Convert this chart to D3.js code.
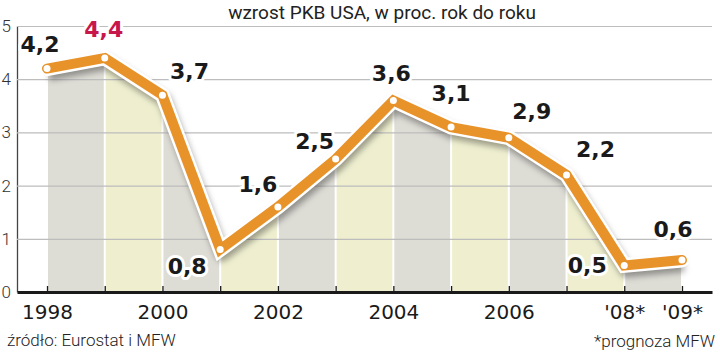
<!DOCTYPE html>
<html>
<head>
<meta charset="utf-8">
<script src="https://cdn.jsdelivr.net/npm/d3@7"></script>
<style>
  body { margin: 0; background: #fff; }
  svg { display: block; }
</style>
</head>
<body>
<div id="wrapper"></div>
<script>
// dane: wzrost PKB USA, w proc. rok do roku
const years = [1998, 1999, 2000, 2001, 2002, 2003, 2004, 2005, 2006, 2007, 2008, 2009];
const growth = [4.2, 4.4, 3.7, 0.8, 1.6, 2.5, 3.6, 3.1, 2.9, 2.2, 0.5, 0.6];
const valueLabels = ["4,2", "4,4", "3,7", "0,8", "1,6", "2,5", "3,6", "3,1", "2,9", "2,2", "0,5", "0,6"];
const xTickLabels = ["1998", "", "2000", "", "2002", "", "2004", "", "2006", "", "'08*", "'09*"];
const yTicks = [0, 1, 2, 3, 4, 5];

// przesuniecia etykiet wzgledem punktow [dx, dy]
const labelOffsets = [[-7, -17], [-1, -21], [27, -16], [-33, 25], [-20, -15], [-21, -10],
                      [-2, -19], [0, -26], [23, -19], [29, -18], [-37, 8], [-9, -23]];

const dataset = years.map((y, i) => ({ year: y, value: growth[i], label: valueLabels[i], off: labelOffsets[i] }));
const xAccessor = d => d.year;
const yAccessor = d => d.value;

const dimensions = {
  width: 720,
  height: 353,
  left: 17,
  right: 712,
  top: 26,
  bottom: 292,
};

const wrapper = d3.select("#wrapper")
  .append("svg")
  .attr("width", dimensions.width)
  .attr("height", dimensions.height);

const defs = wrapper.append("defs");
defs.append("filter")
  .attr("id", "shadow")
  .attr("x", "-10%").attr("y", "-10%").attr("width", "120%").attr("height", "130%")
  .append("feGaussianBlur")
  .attr("stdDeviation", 3);

// skale
const xScale = d3.scalePoint()
  .domain(years)
  .range([dimensions.left, dimensions.right])
  .padding(0.52);

const yScale = d3.scaleLinear()
  .domain([0, 5])
  .range([dimensions.bottom, dimensions.top]);

// pole pod linia - tylko do przyciecia pasow
const areaGenerator = d3.area()
  .x(d => xScale(xAccessor(d)))
  .y0(yScale(0))
  .y1(d => yScale(yAccessor(d)));

defs.append("clipPath")
  .attr("id", "under-line")
  .append("path")
  .attr("d", areaGenerator(dataset));

// pasy naprzemienne
const step = xScale.step();
wrapper.append("g")
  .attr("clip-path", "url(#under-line)")
  .selectAll("rect")
  .data(dataset.slice(0, -1))
  .join("rect")
  .attr("x", d => xScale(xAccessor(d)) + 1)
  .attr("y", dimensions.top)
  .attr("width", step - 2)
  .attr("height", yScale(0) - dimensions.top)
  .attr("fill", (d, i) => i % 2 === 0 ? "#dddcd5" : "#efefd0");

// os Y z liniami siatki
const yAxis = wrapper.append("g")
  .attr("transform", `translate(${dimensions.left},0)`)
  .call(d3.axisLeft(yScale)
    .tickValues(yTicks)
    .tickSizeInner(-(dimensions.right - dimensions.left))
    .tickSizeOuter(0)
    .tickPadding(6)
    .tickFormat(d3.format("d")));

yAxis.select(".domain")
  .attr("stroke", "#444")
  .attr("stroke-width", 1.3);
yAxis.selectAll(".tick line")
  .attr("stroke", "#bdbdbd")
  .attr("stroke-width", 1.2);
yAxis.selectAll(".tick text")
  .attr("fill", "#333")
  .style("font-family", "Roboto, 'DejaVu Sans', sans-serif")
  .style("font-weight", 300)
  .style("font-size", "17px");

// os X
const xAxis = wrapper.append("g")
  .attr("transform", `translate(0,${yScale(0)})`)
  .call(d3.axisBottom(xScale)
    .tickSizeInner(-6)
    .tickSizeOuter(0)
    .tickPadding(13)
    .tickFormat((d, i) => xTickLabels[i]));

xAxis.select(".domain")
  .attr("stroke", "#1a1a1a")
  .attr("stroke-width", 3);
xAxis.selectAll(".tick line")
  .attr("stroke", "#1a1a1a")
  .attr("stroke-width", 1.3);
xAxis.selectAll(".tick text")
  .attr("fill", "#1a1a1a")
  .style("font-family", "'DejaVu Sans', sans-serif")
  .style("font-size", "20px");

// linia
const lineGenerator = d3.line()
  .x(d => xScale(xAccessor(d)))
  .y(d => yScale(yAccessor(d)));

wrapper.append("path")
  .attr("d", lineGenerator(dataset))
  .attr("transform", "translate(2,5)")
  .attr("fill", "none")
  .attr("stroke", "#000")
  .attr("stroke-opacity", 0.35)
  .attr("stroke-width", 14)
  .attr("stroke-linejoin", "round")
  .attr("filter", "url(#shadow)");

wrapper.append("path")
  .attr("d", lineGenerator(dataset))
  .attr("fill", "none")
  .attr("stroke", "#fff")
  .attr("stroke-width", 15)
  .attr("stroke-linecap", "round")
  .attr("stroke-linejoin", "miter");

wrapper.append("path")
  .attr("d", lineGenerator(dataset))
  .attr("fill", "none")
  .attr("stroke", "#e8932a")
  .attr("stroke-width", 10)
  .attr("stroke-linecap", "round")
  .attr("stroke-linejoin", "miter");

wrapper.append("g")
  .selectAll("circle")
  .data(dataset)
  .join("circle")
  .attr("cx", d => xScale(xAccessor(d)))
  .attr("cy", d => yScale(yAccessor(d)))
  .attr("r", 3.5)
  .attr("fill", "#fff");

// etykiety wartosci
wrapper.append("g")
  .selectAll("text")
  .data(dataset)
  .join("text")
  .attr("x", d => xScale(xAccessor(d)) + d.off[0])
  .attr("y", d => yScale(yAccessor(d)) + d.off[1])
  .attr("text-anchor", "middle")
  .attr("fill", d => d.year === 1999 ? "#c8174a" : "#1a1a1a")
  .attr("stroke", "#fff")
  .attr("stroke-width", 6)
  .attr("stroke-linejoin", "round")
  .style("paint-order", "stroke")
  .style("font-family", "'DejaVu Sans', sans-serif")
  .style("font-weight", "bold")
  .style("font-size", "22px")
  .text(d => d.label);

// tytul i podpisy
wrapper.append("text")
  .attr("x", 382)
  .attr("y", 19)
  .attr("text-anchor", "middle")
  .attr("fill", "#222")
  .style("font-family", "Roboto, sans-serif")
  .style("font-size", "19px")
  .text("wzrost PKB USA, w proc. rok do roku");

wrapper.append("text")
  .attr("x", 7)
  .attr("y", 346)
  .attr("fill", "#222")
  .style("font-family", "Roboto, sans-serif")
  .style("font-weight", 300)
  .style("font-size", "17px")
  .text("źródło: Eurostat i MFW");

wrapper.append("text")
  .attr("x", 715)
  .attr("y", 347)
  .attr("text-anchor", "end")
  .attr("fill", "#222")
  .style("font-family", "Roboto, sans-serif")
  .style("font-weight", 300)
  .style("font-size", "17px")
  .text("*prognoza MFW");
</script>
</body>
</html>
